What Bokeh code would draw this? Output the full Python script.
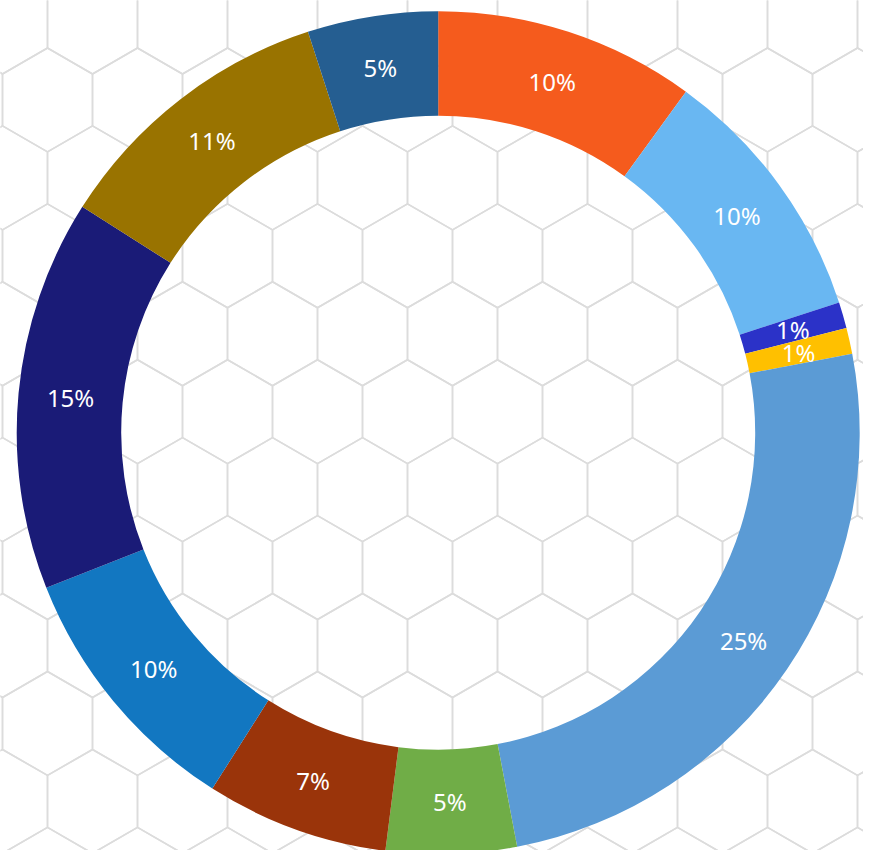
import math
import numpy as np
from bokeh.plotting import figure
from bokeh.models import Range1d, ColumnDataSource
from bokeh.core.properties import value
from bokeh.embed import file_html
from bokeh.resources import INLINE

# ---- data (clockwise from 12 o'clock) ----
shares = [10, 10, 1, 1, 25, 5, 7, 10, 15, 11, 5]
labels = ["10%", "10%", "1%", "1%", "25%", "5%", "7%", "10%", "15%", "11%", "5%"]
colors = ["#F55B1D", "#69B7F2", "#2B32C8", "#FFC000", "#5B9BD5", "#70AD47",
          "#9A340A", "#1277C1", "#1A1B77", "#997300", "#255E91"]

# ---- geometry (screen pixel units, y = -screen_y) ----
W, H = 863, 850
cx, cy = 437.7, -432.2
r_out, r_in = 421.5, 317.0

p = figure(width=W, height=H, output_backend="svg", toolbar_location=None,
           x_range=Range1d(0, W), y_range=Range1d(-H, 0), min_border=0)
p.axis.visible = False
p.grid.visible = False
p.outline_line_color = None
p.background_fill_color = "white"

# hexagon background lattice
hw = 90.0
R = hw / math.sqrt(3)
xs, ys = [], []
for k in range(-8, 8):
    yc = 411.2 + 1.5 * R * k
    off = 45.0 if k % 2 else 0.0
    for n in range(-7, 6):
        xc = 497.0 + off + hw * n
        vx = [xc + R * math.cos(math.radians(30 + 60 * i)) for i in range(7)]
        vy = [-(yc + R * math.sin(math.radians(30 + 60 * i))) for i in range(7)]
        xs.append(vx)
        ys.append(vy)
p.multi_line(xs, ys, line_color="#dcdcdc", line_width=1.6)

# donut
total = float(sum(shares))
cum = np.cumsum([0] + shares) / total
starts = [math.pi / 2 - 2 * math.pi * cum[i + 1] for i in range(len(shares))]
ends = [math.pi / 2 - 2 * math.pi * cum[i] for i in range(len(shares))]
src = ColumnDataSource(dict(start=starts, end=ends, color=colors))
p.annular_wedge(x=cx, y=cy, inner_radius=r_in, outer_radius=r_out,
                start_angle="start", end_angle="end", fill_color="color",
                line_color=None, source=src)

# labels
r_mid = (r_in + r_out) / 2
mids = [(s + e) / 2 for s, e in zip(starts, ends)]
lx = [cx + r_mid * math.cos(a) for a in mids]
ly = [cy + r_mid * math.sin(a) for a in mids]
p.text(x=lx, y=ly, text=labels, text_color="white", text_align="center",
       text_baseline="middle", text_font=value("Noto Sans"), text_font_size="24px")

open("out.html", "w").write(file_html(p, INLINE))
